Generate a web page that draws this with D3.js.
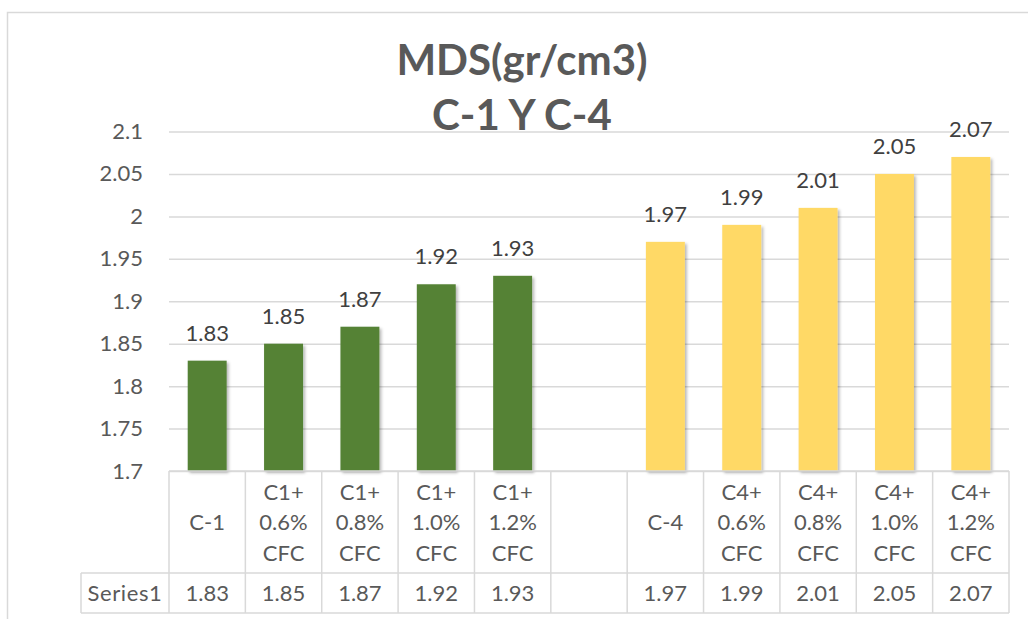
<!DOCTYPE html>
<html>
<head>
<meta charset="utf-8">
<script src="https://cdn.jsdelivr.net/npm/d3@7/dist/d3.min.js"></script>
<style>
  html, body { margin: 0; padding: 0; background: #fff; }
  svg { display: block; }
  text { font-family: Lato, "Open Sans", "Liberation Sans", sans-serif; }
</style>
</head>
<body>
<svg id="chart" width="1028" height="619"></svg>
<script>
// Category labels (one row of text per line), with an empty column between the two groups
const categories = [
  ["C-1"],
  ["C1+", "0.6%", "CFC"],
  ["C1+", "0.8%", "CFC"],
  ["C1+", "1.0%", "CFC"],
  ["C1+", "1.2%", "CFC"],
  [],
  ["C-4"],
  ["C4+", "0.6%", "CFC"],
  ["C4+", "0.8%", "CFC"],
  ["C4+", "1.0%", "CFC"],
  ["C4+", "1.2%", "CFC"]
];
// MDS values (gr/cm3); null for the spacer column
const series1 = [1.83, 1.85, 1.87, 1.92, 1.93, null, 1.97, 1.99, 2.01, 2.05, 2.07];
// Group of each column: C-1 mixes or C-4 mixes
const groups = ["C1", "C1", "C1", "C1", "C1", null, "C4", "C4", "C4", "C4", "C4"];
const yTicks = [1.7, 1.75, 1.8, 1.85, 1.9, 1.95, 2, 2.05, 2.1];
const seriesName = "Series1";
const titleLines = ["MDS(gr/cm3)", "C-1 Y C-4"];

const svg = d3.select("#chart");
const plot = { left: 169, right: 1009, top: 131.5, bottom: 471 };
const tableRows = { catBottom: 573, valBottom: 613, leftEdge: 81 };
const gridColor = "#d9d9d9";
const fontSize = 22;

const color = d3.scaleOrdinal().domain(["C1", "C4"]).range(["#548235", "#ffd966"]);

const x = d3.scaleBand()
  .domain(d3.range(categories.length))
  .range([plot.left, plot.right])
  .paddingInner(0.49)
  .paddingOuter(0.245);
const step = x.step();

const y = d3.scaleLinear().domain([1.7, 2.1]).range([plot.bottom, plot.top]);

// soft shadow under the bars
const defs = svg.append("defs");
const f = defs.append("filter").attr("id", "shadow")
  .attr("x", "-20%").attr("y", "-20%").attr("width", "150%").attr("height", "140%");
f.append("feDropShadow").attr("dx", 2).attr("dy", 2).attr("stdDeviation", 1.6)
  .attr("flood-color", "#000").attr("flood-opacity", 0.28);

// chart frame
svg.append("rect")
  .attr("x", 7.5).attr("y", 12.5).attr("width", 1040).attr("height", 640)
  .attr("fill", "#fff").attr("stroke", gridColor).attr("stroke-width", 1.5);

// title
const title = svg.append("text")
  .attr("x", 522).attr("text-anchor", "middle")
  .attr("fill", "#595959").attr("font-weight", "bold").attr("font-size", 42);
title.selectAll("tspan").data(titleLines).join("tspan")
  .attr("x", 522).attr("y", (d, i) => 75 + i * 55).text(d => d);

// y axis with gridlines
const yAxis = d3.axisLeft(y).tickValues(yTicks).tickFormat(d3.format("~g"))
  .tickSize(-(plot.right - plot.left)).tickPadding(26);
const gy = svg.append("g").attr("transform", `translate(${plot.left},0)`).call(yAxis);
gy.select(".domain").remove();
gy.selectAll(".tick line").attr("stroke", gridColor).attr("stroke-width", 1.5);
gy.selectAll(".tick text").attr("fill", "#595959").attr("font-size", fontSize)
  .attr("font-family", "Lato, 'Open Sans', sans-serif");

// bars
const idx = d3.range(categories.length).filter(i => series1[i] != null);
svg.append("g").selectAll("rect").data(idx).join("rect")
  .attr("x", i => x(i)).attr("width", x.bandwidth())
  .attr("y", i => y(series1[i])).attr("height", i => y(1.7) - y(series1[i]))
  .attr("fill", i => color(groups[i]))
  .attr("filter", "url(#shadow)");

// data labels
svg.append("g").selectAll("text").data(idx).join("text")
  .attr("x", i => x(i) + x.bandwidth() / 2)
  .attr("y", i => y(series1[i]) - 20)
  .attr("text-anchor", "middle").attr("fill", "#404040").attr("font-size", fontSize)
  .text(i => series1[i]);

// data table
const tbl = svg.append("g").attr("stroke", gridColor).attr("stroke-width", 1.5).attr("fill", "none");
const colEdges = d3.range(categories.length + 1).map(i => plot.left + i * step);
tbl.append("line").attr("x1", plot.left).attr("x2", plot.right).attr("y1", plot.bottom).attr("y2", plot.bottom);
tbl.append("line").attr("x1", tableRows.leftEdge).attr("x2", plot.right)
  .attr("y1", tableRows.catBottom).attr("y2", tableRows.catBottom);
tbl.append("line").attr("x1", tableRows.leftEdge).attr("x2", plot.right)
  .attr("y1", tableRows.valBottom).attr("y2", tableRows.valBottom);
tbl.append("line").attr("x1", tableRows.leftEdge).attr("x2", tableRows.leftEdge)
  .attr("y1", tableRows.catBottom).attr("y2", tableRows.valBottom);
tbl.selectAll(".col").data(colEdges).join("line")
  .attr("x1", d => d).attr("x2", d => d)
  .attr("y1", plot.bottom).attr("y2", tableRows.valBottom);

// category labels
const catMid = (plot.bottom + tableRows.catBottom) / 2;
const catG = svg.append("g").selectAll("text").data(d3.range(categories.length)).join("text")
  .attr("text-anchor", "middle").attr("fill", "#595959").attr("font-size", fontSize);
catG.each(function (i) {
  const lines = categories[i];
  const n = lines.length;
  d3.select(this).selectAll("tspan").data(lines).join("tspan")
    .attr("x", plot.left + (i + 0.5) * step)
    .attr("y", (d, k) => catMid + (k - (n - 1) / 2) * 30.5 + 8)
    .text(d => d);
});

// value row
const valMid = (tableRows.catBottom + tableRows.valBottom) / 2 + 8;
svg.append("text").attr("x", (tableRows.leftEdge + plot.left) / 2).attr("y", valMid)
  .attr("text-anchor", "middle").attr("fill", "#595959").attr("font-size", fontSize)
  .attr("letter-spacing", 0.6).text(seriesName);
svg.append("g").selectAll("text").data(idx).join("text")
  .attr("x", i => plot.left + (i + 0.5) * step).attr("y", valMid)
  .attr("text-anchor", "middle").attr("fill", "#595959").attr("font-size", fontSize)
  .text(i => series1[i]);
</script>
</body>
</html>
